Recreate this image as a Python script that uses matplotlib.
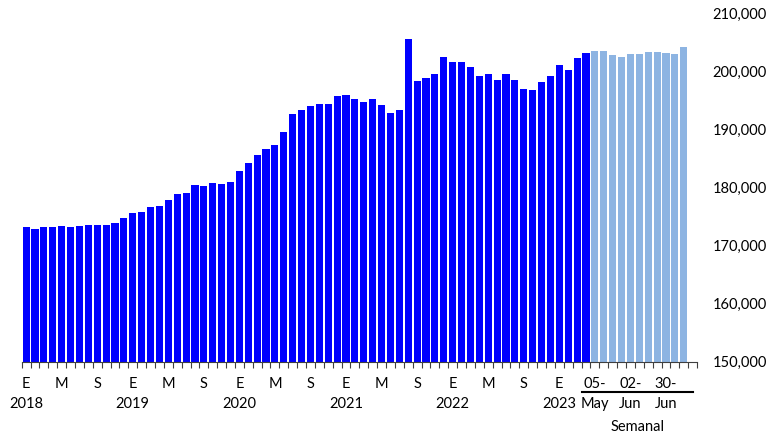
import matplotlib
matplotlib.use("Agg")
import matplotlib.pyplot as plt
import numpy as np

plt.rcParams['font.family'] = ['Lato', 'DejaVu Sans']

# mensual: ene-2018 a abr-2023
mensual = [
    173200, 172900, 173200, 173200, 173400, 173200, 173300, 173600, 173550, 173550, 173900, 174800,
    175600, 175800, 176700, 176800, 177800, 178900, 179100, 180400, 180200, 180800, 180600, 180900,
    182900, 184300, 185600, 186700, 187400, 189600, 192700, 193400, 194100, 194400, 194400, 195800,
    196000, 195300, 194800, 195300, 194300, 192900, 193400, 205600, 198400, 198900, 199600, 202500,
    201700, 201700, 200800, 199300, 199600, 198600, 199600, 198600, 197000, 196800, 198200, 199300,
    201200, 200300, 202400, 203200,
]
# semanal: 05-may a 14-jul 2023
semanal = [203600, 203600, 202900, 202500, 203100, 203100, 203400, 203400, 203200, 203100, 204200]

meses_lbl = {0: 'E', 4: 'M', 8: 'S'}
anios = ['2018', '2019', '2020', '2021', '2022', '2023']
sem_lbl_1 = ['05-', '02-', '30-']
sem_lbl_2 = ['May', 'Jun', 'Jun']
sem_pos = [0, 4, 8]

azul = '#0000FF'
azul_claro = '#8DB4E2'
fs = 10.5

n_m = len(mensual)
n_s = len(semanal)
x_m = np.arange(n_m)
x_s = np.arange(n_m, n_m + n_s)

fig = plt.figure(figsize=(7.71, 4.33), dpi=100)
ax = fig.add_axes([0.0281, 0.1649, 0.876, 0.8035])

ax.bar(x_m, mensual, width=0.8, color=azul)
ax.bar(x_s, semanal, width=0.8, color=azul_claro)

ax.set_ylim(150000, 210000)
ax.set_xlim(-0.5, n_m + n_s + 0.5)

# eje y a la derecha
ax.yaxis.tick_right()
ax.set_yticks(np.arange(150000, 210001, 10000))
ax.set_yticklabels([f'{v:,.0f}' for v in np.arange(150000, 210001, 10000)], fontsize=fs)
ax.tick_params(axis='y', length=0, pad=11)

# eje x: marcas en los limites de cada categoria
ax.set_xticks([])
ax.set_xticks(np.arange(-0.5, n_m + n_s + 1), minor=True)
ax.tick_params(axis='x', which='minor', length=4, width=0.8, color='#404040')

for s in ['top', 'left', 'right']:
    ax.spines[s].set_visible(False)
ax.spines['bottom'].set_color('#404040')
ax.spines['bottom'].set_linewidth(0.8)

trans = ax.get_xaxis_transform()
for i in range(n_m):
    if i % 4 == 0:
        ax.text(i, -0.065, meses_lbl[i % 12], transform=trans, ha='center', va='center', fontsize=fs)
    if i % 12 == 0:
        ax.text(i, -0.123, anios[i // 12], transform=trans, ha='center', va='center', fontsize=fs)

for p, a, b in zip(sem_pos, sem_lbl_1, sem_lbl_2):
    ax.text(n_m + p, -0.065, a, transform=trans, ha='center', va='center', fontsize=fs)
    ax.text(n_m + p, -0.123, b, transform=trans, ha='center', va='center', fontsize=fs)

ax.plot([n_m - 1.45, n_m + n_s], [-0.088, -0.088], transform=trans, color='black',
        linewidth=1.5, clip_on=False)
ax.text(n_m + 4.8, -0.187, 'Semanal', transform=trans, ha='center', va='center', fontsize=fs)

fig.savefig('out.png', dpi=100)
